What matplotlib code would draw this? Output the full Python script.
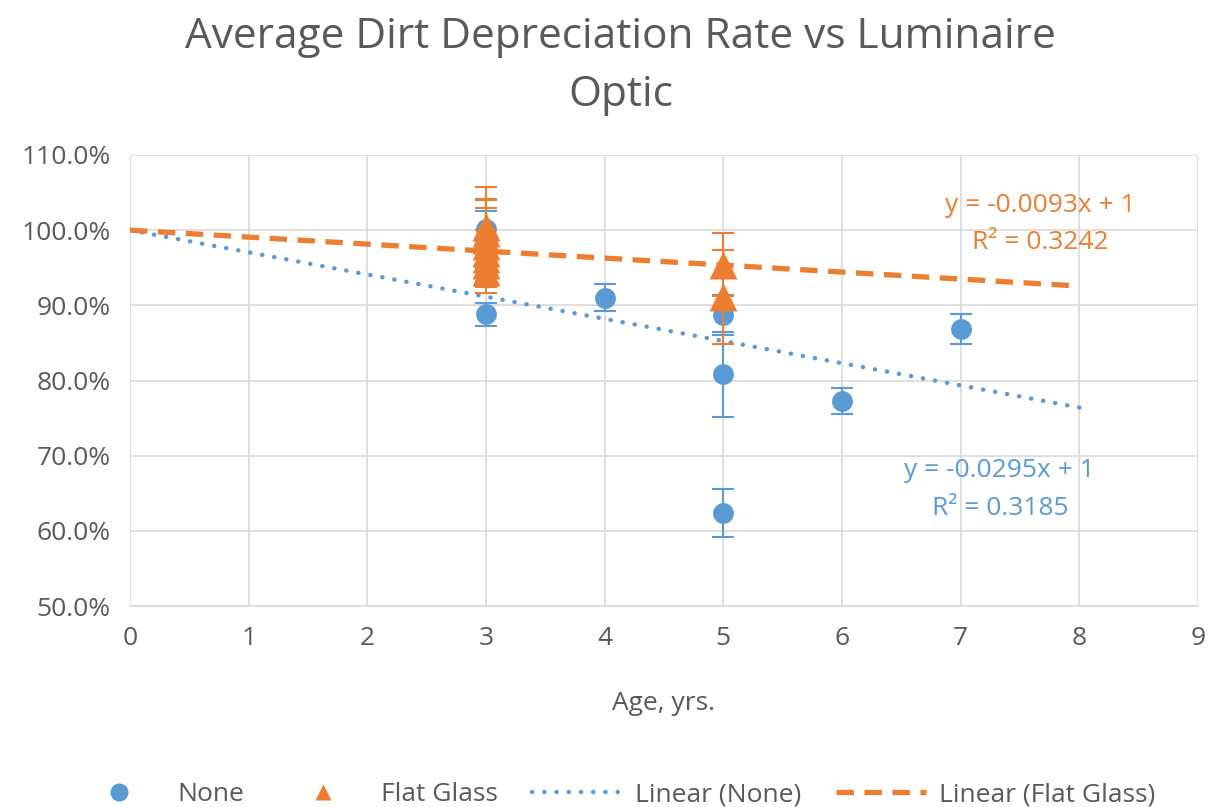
import numpy as np
import matplotlib.pyplot as plt
from matplotlib.lines import Line2D
from matplotlib.ticker import PercentFormatter, MultipleLocator

plt.rcParams['font.family'] = ['Open Sans', 'DejaVu Sans']

BLUE = '#5B9BD5'
ORANGE = '#ED7D31'
GREY = '#595959'
GRID = '#D9D9D9'

# Luminaires without an optic
none_age = [3, 3, 4, 5, 5, 5, 6, 7]
none_rate = [1.002, 0.888, 0.910, 0.887, 0.808, 0.624, 0.773, 0.869]
none_err = [0.024, 0.015, 0.018, 0.027, 0.056, 0.032, 0.017, 0.020]

# Luminaires with a flat glass lens
flat_age = [3, 3, 3, 3, 3, 3, 3, 3, 5, 5]
flat_rate = [1.004, 0.996, 0.987, 0.979, 0.970, 0.962, 0.953, 0.944, 0.954, 0.911]
flat_err = [0.053, 0.044, 0.043, 0.063, 0.030, 0.025, 0.020, 0.020, 0.042, 0.062]

# Linear trends (intercept fixed at 1)
none_slope, none_r2 = -0.0295, 0.3185
flat_slope, flat_r2 = -0.0093, 0.3242
trend_x = np.array([0, 8])

fig = plt.figure(figsize=(12.17, 8.07), dpi=100)
ax = fig.add_axes([0.1068, 0.249, 0.8776, 0.559])

dotted = dict(color=BLUE, lw=3.2, linestyle=(0, (0.05, 2.7)),
              dash_capstyle='round')
dashed = dict(color=ORANGE, lw=3.8, linestyle=(0, (3.3, 2.0)))

ax.plot(trend_x, none_slope * trend_x + 1, zorder=2, **dotted)
ax.plot(trend_x, flat_slope * trend_x + 1, zorder=2, **dashed)

ax.errorbar(none_age, none_rate, yerr=none_err, fmt='o', color=BLUE,
            ms=15, mec='none', elinewidth=1.5, capsize=8, capthick=1.5,
            zorder=3)
ax.errorbar(flat_age, flat_rate, yerr=flat_err, fmt='^', color=ORANGE,
            ms=20.5, mec='none', elinewidth=1.5, capsize=8, capthick=1.5,
            zorder=4)

ax.text(7.67, 1.008, f'y = {flat_slope}x + 1\nR² = {flat_r2}', color=ORANGE,
        fontsize=19, ha='center', va='center', linespacing=1.6)
ax.text(7.33, 0.655, f'y = {none_slope}x + 1\nR² = {none_r2}', color=BLUE,
        fontsize=19, ha='center', va='center', linespacing=1.7)

ax.set_xlim(0, 9)
ax.set_ylim(0.5, 1.1)
ax.xaxis.set_major_locator(MultipleLocator(1))
ax.yaxis.set_major_locator(MultipleLocator(0.1))
ax.yaxis.set_major_formatter(PercentFormatter(1.0, decimals=1))
ax.grid(True, color=GRID, lw=1.2)
ax.set_axisbelow(True)
for side in ['top', 'right', 'left']:
    ax.spines[side].set_visible(False)
ax.spines['bottom'].set_color(GRID)
ax.spines['bottom'].set_linewidth(1.2)
ax.tick_params(length=0, labelsize=19, labelcolor=GREY, pad=14)

ax.set_xlabel('Age, yrs.', fontsize=19, color=GREY, labelpad=29)
fig.suptitle('Average Dirt Depreciation Rate vs Luminaire\nOptic',
             fontsize=30.5, color=GREY, x=0.51, y=0.98, linespacing=1.5)

handles = [
    Line2D([], [], ls='none', marker='o', color=BLUE, mec='none', ms=13),
    Line2D([], [], ls='none', marker='^', color=ORANGE, mec='none', ms=12),
    Line2D([], [], **dotted),
    Line2D([], [], **dashed),
]
labels = ['None', 'Flat Glass', 'Linear (None)', 'Linear (Flat Glass)']
fig.legend(handles, labels, loc='lower center', bbox_to_anchor=(0.505, -0.03),
           ncol=4, frameon=False, fontsize=19, labelcolor=GREY,
           handlelength=3.4, handletextpad=0.5, columnspacing=1.3)

fig.savefig('out.png', dpi=100)
